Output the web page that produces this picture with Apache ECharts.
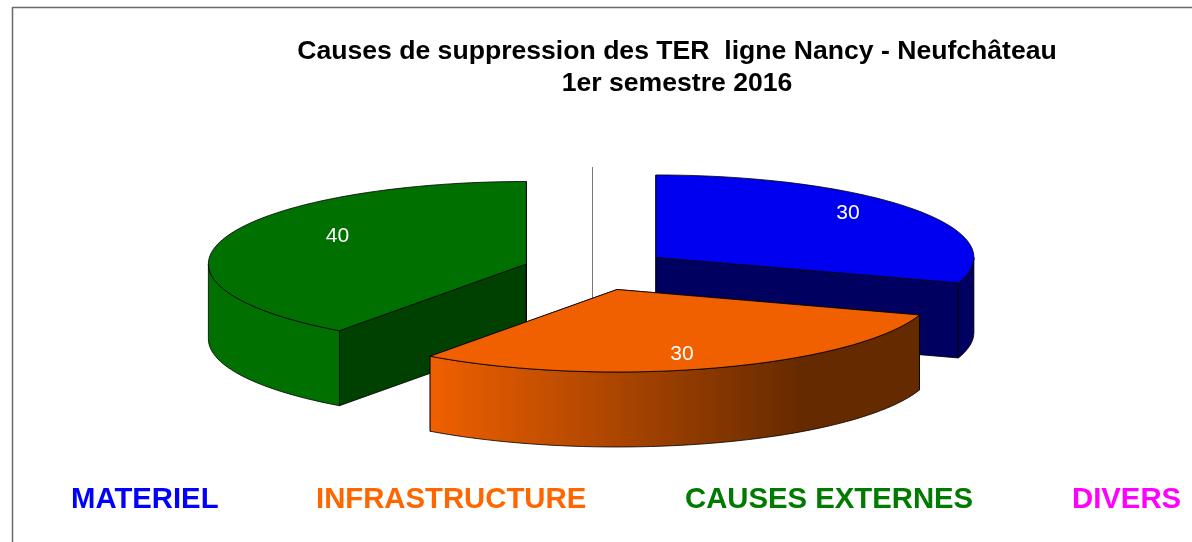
<!DOCTYPE html>
<html>
<head>
<meta charset="utf-8">
<title>Causes de suppression des TER</title>
<style>
html, body { margin: 0; padding: 0; background: #fff; }
#chart { width: 1192px; height: 542px; }
</style>
<script src="https://cdn.jsdelivr.net/npm/echarts@6/dist/echarts.min.js"></script>
</head>
<body>
<div id="chart"></div>
<script>
var categories = ['MATERIEL', 'INFRASTRUCTURE', 'CAUSES EXTERNES', 'DIVERS'];
var values = [30, 30, 40, 0];
var legendColors = ['#0000ff', '#ff6600', '#007a00', '#ff00ff'];
var topColors = ['#0000f0', '#f06000', '#007000', '#ff00ff'];
var innerColors = ['#000060', '#602800', '#004000', '#600060'];
var legendX = [71, 316, 685, 1072];

// pie layout
var cx = 592, cy = 269.5, rx = 318, ry = 82.5, depth = 75;
var explode = [79, 81, 69, 0];
var labelShift = [[192, -46], [65, 63], [-189, -29], [0, 0]];
var total = values.reduce(function (a, b) { return a + b; }, 0);

function point(x0, y0, deg) {
    var a = deg * Math.PI / 180;
    return [x0 + rx * Math.sin(a), y0 - ry * Math.cos(a)];
}
function arc(x0, y0, from, to) {
    var pts = [];
    var n = Math.max(2, Math.ceil((to - from) / 2));
    for (var i = 0; i <= n; i++) {
        pts.push(point(x0, y0, from + (to - from) * i / n));
    }
    return pts;
}
function poly(points, fill, z2) {
    return {
        type: 'polygon',
        z2: z2,
        shape: { points: points },
        style: { fill: fill, stroke: '#000', lineWidth: 0.8 }
    };
}
function down(pts) {
    return pts.map(function (p) { return [p[0], p[1] + depth]; }).reverse();
}
function outerFill(i) {
    // only the orange slice has the shaded rim
    if (i === 1) {
        return new echarts.graphic.LinearGradient(0, 0, 1, 0, [
            { offset: 0, color: '#f06000' },
            { offset: 0.76, color: '#662a00' },
            { offset: 1, color: '#662a00' }
        ]);
    }
    return i === 0 ? innerColors[0] : topColors[i];
}

function renderSlice(params, api) {
    var i = params.dataIndex;
    var v = api.value(0);
    if (!v) {
        return null;
    }
    var start = 0;
    for (var k = 0; k < i; k++) {
        start += values[k] / total * 360;
    }
    var end = start + v / total * 360;
    var mid = (start + end) / 2 * Math.PI / 180;
    var x0 = cx + explode[i] * Math.sin(mid);
    var y0 = cy - explode[i] * Math.cos(mid) * ry / rx;
    var apex = [x0, y0];
    var base = i * 10; // orange has to sit on top of green
    if (i === 1) {
        base = 30;
    }
    var kids = [];
    [start, end].forEach(function (deg) {
        var edge = [apex, point(x0, y0, deg)];
        kids.push(poly(edge.concat(down(edge)), innerColors[i], base + 1));
    });
    var from = Math.max(start, 90), to = Math.min(end, 270);
    if (to > from) {
        var rim = arc(x0, y0, from, to);
        kids.push(poly(rim.concat(down(rim)), outerFill(i), base + 2));
    }
    kids.push(poly([apex].concat(arc(x0, y0, start, end)), topColors[i], base + 3));
    kids.push({
        type: 'text',
        z2: base + 4,
        style: {
            x: x0 + labelShift[i][0],
            y: y0 + labelShift[i][1] + 1.5,
            text: String(v),
            fill: '#fff',
            font: '21px "Liberation Sans", Arial, sans-serif',
            align: 'center',
            verticalAlign: 'middle'
        }
    });
    return { type: 'group', children: kids };
}

var legendTexts = categories.map(function (name, i) {
    return {
        type: 'text',
        left: legendX[i],
        top: 485,
        style: {
            text: name,
            fill: legendColors[i],
            font: 'bold 29.3px "Liberation Sans", Arial, sans-serif'
        }
    };
});

var option = {
    animation: false,
    backgroundColor: '#fff',
    title: {
        text: 'Causes de suppression des TER  ligne Nancy - Neufchâteau\n1er semestre 2016',
        left: 677,
        top: 36,
        padding: 0,
        textAlign: 'center',
        textStyle: {
            fontFamily: '"Liberation Sans", Arial, sans-serif',
            fontSize: 26.6,
            fontWeight: 'bold',
            color: '#000',
            lineHeight: 32
        }
    },
    graphic: [
        {
            type: 'polyline',
            z: 0,
            shape: { points: [[12.5, 542], [12.5, 7.5], [1192, 7.5]] },
            style: { fill: null, stroke: '#6a6a6a', lineWidth: 1.5 }
        },
        {
            type: 'line',
            z: 0,
            shape: { x1: 592.5, y1: 167, x2: 592.5, y2: 300 },
            style: { stroke: '#777', lineWidth: 1 }
        }
    ].concat(legendTexts),
    series: [
        {
            type: 'custom',
            coordinateSystem: 'none',
            z: 2,
            silent: true,
            renderItem: renderSlice,
            data: values.map(function (v) { return [v]; })
        }
    ]
};

echarts.init(document.getElementById('chart')).setOption(option);
</script>
</body>
</html>
